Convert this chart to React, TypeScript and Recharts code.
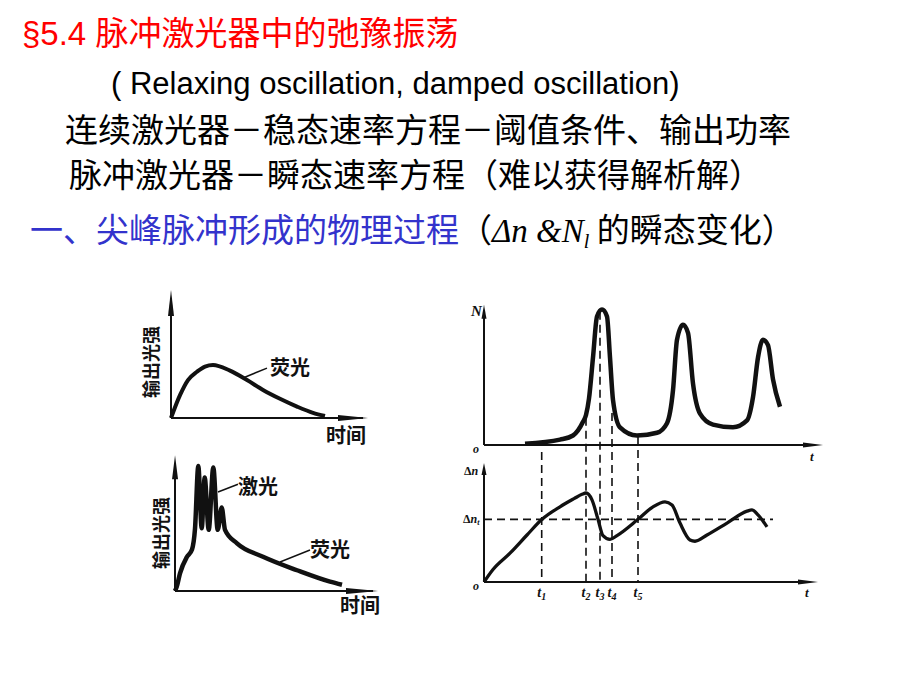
import React from 'react';
import { ComposedChart, Line, XAxis, YAxis, ReferenceLine, ReferenceDot } from 'recharts';

// ---- Chart A: fluorescence only (time, intensity) ----
const fluoT = [0, 0.9, 1.7, 2.6, 3.4, 4.2, 5.9, 7.6, 9.2, 10.9, 12.6, 14.2, 15.4];
const fluoI = [0, 0.44, 0.73, 0.89, 0.99, 1.02, 0.91, 0.73, 0.54, 0.37, 0.22, 0.1, 0.04];

// ---- Chart B: laser spikes on fluorescence ----
const laserT = [0, 0.17, 0.5, 1.2, 1.7, 2.0, 2.33, 2.67, 2.97, 3.37, 3.83, 4.27, 4.67, 5.0, 6.2, 8.8, 12.2, 15.5, 16.7];
const laserI = [0, 0.08, 0.34, 0.66, 0.8, 1.2, 2.41, 1.21, 2.19, 1.18, 2.38, 1.18, 1.61, 1.18, 0.92, 0.66, 0.4, 0.18, 0.12];

// ---- Chart C: photon number N(t) ----
const nT = [4.1, 7.6, 8.9, 9.9, 10.2, 10.5, 10.9, 11.3, 11.8, 12.3, 12.6, 12.9, 13.6, 15.3, 17.3, 18.3, 18.9, 19.3, 19.9, 20.4, 20.9, 21.6, 22.9, 24.9, 26.3, 26.9, 27.4, 27.9, 28.4, 28.9, 29.6];
const nV = [0.01, 0.04, 0.07, 0.17, 0.22, 0.34, 0.64, 0.94, 0.99, 0.94, 0.64, 0.33, 0.13, 0.07, 0.09, 0.16, 0.4, 0.77, 0.88, 0.82, 0.45, 0.23, 0.15, 0.13, 0.18, 0.35, 0.64, 0.77, 0.73, 0.48, 0.28];

// ---- Chart D: inversion Δn(t) ----
const dnT = [0, 0.9, 2.6, 4.3, 5.8, 7.6, 9.0, 9.8, 10.2, 10.8, 11.4, 11.9, 12.6, 13.3, 15.4, 16.9, 18.1, 18.8, 19.6, 20.6, 21.1, 22.3, 24.3, 26.3, 26.8, 27.4, 28.3];
const dnV = [0, 0.2, 0.46, 0.75, 1.0, 1.2, 1.33, 1.4, 1.42, 1.31, 1.0, 0.74, 0.68, 0.74, 1.0, 1.2, 1.28, 1.23, 0.94, 0.67, 0.65, 0.75, 0.94, 1.13, 1.15, 1.07, 0.88];
const dnThreshold = 1.0;
const thresholdEnd = 28.9;

// time marks t1..t5
const tMarks = [5.77, 10.2, 11.6, 12.8, 15.4];
const tMarkStartN = [-0.05, 0.2, 0.975, 0.235, 0.06];
const tSubs = ['1', '2', '3', '4', '5'];

const zip = (ts: number[], vs: number[]) => ts.map((t, i) => ({ t, v: vs[i] }));
const fluoData = zip(fluoT, fluoI);
const laserData = zip(laserT, laserI);
const nData = zip(nT, nV);
const dnData = zip(dnT, dnV);

const INK = '#111';
const CJK = '"Noto Sans CJK SC", sans-serif';
const SERIF = '"Liberation Serif", "DejaVu Serif", serif';

const arrowShape = (dir: 'up' | 'right', len: number, w: number) => (p: any) => {
  const { cx, cy } = p;
  if (cx == null || cy == null) return <g />;
  const pts =
    dir === 'up'
      ? `${cx},${cy} ${cx - w},${cy + len} ${cx + w},${cy + len}`
      : `${cx},${cy} ${cx - len},${cy - w} ${cx - len},${cy + w}`;
  return <polygon points={pts} fill={INK} />;
};

const TTick = (props: any) => {
  const { x, y, index } = props;
  return (
    <text x={x} y={y + 15} textAnchor="middle" fontFamily={SERIF} fontStyle="italic" fontWeight="bold" fontSize={14} fill={INK}>
      t<tspan fontSize={10} dy={3}>{tSubs[index]}</tspan>
    </text>
  );
};

const abs = (left: number, top: number, extra: React.CSSProperties = {}): React.CSSProperties => ({
  position: 'absolute',
  left,
  top,
  lineHeight: 1,
  whiteSpace: 'nowrap',
  ...extra,
});

const VLabel = ({ cx, cy, text }: { cx: number; cy: number; text: string }) => (
  <div
    style={abs(cx - 40, cy - 10, {
      width: 80,
      height: 20,
      lineHeight: '20px',
      textAlign: 'center',
      transform: 'rotate(-90deg)',
      fontFamily: CJK,
      fontWeight: 700,
      fontSize: 18,
      color: INK,
    })}
  >
    {text}
  </div>
);

const lbl = (left: number, top: number, text: string, size = 20) => (
  <div style={abs(left, top, { fontFamily: CJK, fontWeight: 700, fontSize: size, color: INK })}>{text}</div>
);

export default function App() {
  return (
    <div style={{ position: 'absolute', left: 0, top: 0, width: 920, height: 690, background: '#fff', overflow: 'hidden', fontFamily: CJK }}>
      {/* Titles */}
      <div style={abs(22, 15, { fontSize: 33, color: '#ff0000', fontFamily: CJK })}>
        <span style={{ fontFamily: '"Liberation Sans", Arial, sans-serif' }}>§5.4 </span>脉冲激光器中的弛豫振荡
      </div>
      <div style={abs(111, 68, { fontSize: 31, color: '#000', fontFamily: '"Liberation Sans", Arial, sans-serif' })}>
        ( Relaxing oscillation, damped oscillation)
      </div>
      <div style={abs(65, 112, { fontSize: 33, color: '#000' })}>连续激光器－稳态速率方程－阈值条件、输出功率</div>
      <div style={abs(69, 157, { fontSize: 33, color: '#000' })}>脉冲激光器－瞬态速率方程（难以获得解析解）</div>
      <div style={abs(30, 212, { fontSize: 33, color: '#3333cc' })}>
        一、尖峰脉冲形成的物理过程
        <span style={{ color: '#000' }}>
          （
          <span style={{ fontFamily: SERIF, fontStyle: 'italic' }}>
            Δn &amp;N<sub style={{ fontSize: 20, verticalAlign: '-6px' }}>l</sub>
          </span>{' '}
          的瞬态变化）
        </span>
      </div>

      {/* Chart A */}
      <div style={{ position: 'absolute', left: 130, top: 280 }}>
        <ComposedChart width={250} height={150} margin={{ top: 8, right: 9, bottom: 12, left: 41 }}>
          <XAxis type="number" dataKey="t" domain={[0, 20]} hide />
          <YAxis type="number" domain={[0, 2.5]} hide />
          <ReferenceLine segment={[{ x: 0, y: 0 }, { x: 0, y: 2.3 }]} stroke={INK} strokeWidth={2} ifOverflow="visible" />
          <ReferenceLine segment={[{ x: 0, y: 0 }, { x: 19.2, y: 0 }]} stroke={INK} strokeWidth={2} ifOverflow="visible" />
          <ReferenceDot x={0} y={2.46} ifOverflow="visible" shape={arrowShape('up', 26, 3)} />
          <ReferenceDot x={19.7} y={0} ifOverflow="visible" shape={arrowShape('right', 30, 3)} />
          <ReferenceLine segment={[{ x: 7.2, y: 0.77 }, { x: 9.6, y: 0.96 }]} stroke={INK} strokeWidth={1.5} ifOverflow="visible" />
          <Line data={fluoData} dataKey="v" type="monotone" stroke={INK} strokeWidth={4} dot={false} activeDot={false} isAnimationActive={false} />
        </ComposedChart>
      </div>
      <VLabel cx={150} cy={362} text="输出光强" />
      {lbl(270, 357, '荧光')}
      {lbl(326, 425, '时间')}

      {/* Chart B */}
      <div style={{ position: 'absolute', left: 135, top: 445 }}>
        <ComposedChart width={260} height={160} margin={{ top: 6, right: 15, bottom: 14, left: 40 }}>
          <XAxis type="number" dataKey="t" domain={[0, 20.5]} hide />
          <YAxis type="number" domain={[0, 2.7]} hide />
          <ReferenceLine segment={[{ x: 0, y: 0 }, { x: 0, y: 2.4 }]} stroke={INK} strokeWidth={2} ifOverflow="visible" />
          <ReferenceLine segment={[{ x: 0, y: 0 }, { x: 19.8, y: 0 }]} stroke={INK} strokeWidth={2} ifOverflow="visible" />
          <ReferenceDot x={0} y={2.62} ifOverflow="visible" shape={arrowShape('up', 24, 3)} />
          <ReferenceDot x={20.3} y={0} ifOverflow="visible" shape={arrowShape('right', 32, 3)} />
          <ReferenceLine segment={[{ x: 4.3, y: 1.91 }, { x: 6.3, y: 2.06 }]} stroke={INK} strokeWidth={1.5} ifOverflow="visible" />
          <ReferenceLine segment={[{ x: 10.5, y: 0.56 }, { x: 13.5, y: 0.79 }]} stroke={INK} strokeWidth={1.5} ifOverflow="visible" />
          <Line data={laserData} dataKey="v" type="monotone" stroke={INK} strokeWidth={4.5} dot={false} activeDot={false} isAnimationActive={false} />
        </ComposedChart>
      </div>
      <VLabel cx={160} cy={533} text="输出光强" />
      {lbl(238, 476, '激光')}
      {lbl(310, 539, '荧光')}
      {lbl(340, 595, '时间')}

      {/* Charts C & D (shared time axis) */}
      <div style={{ position: 'absolute', left: 440, top: 290 }}>
        <ComposedChart width={400} height={320} margin={{ top: 10, right: 16, bottom: 4, left: 44 }}>
          <XAxis
            type="number"
            dataKey="t"
            domain={[0, 34]}
            ticks={tMarks}
            interval={0}
            axisLine={false}
            tickLine={false}
            tickSize={0}
            tickMargin={0}
            height={24}
            tick={<TTick />}
          />
          <YAxis yAxisId="n" type="number" domain={[-1, 1.06]} hide />
          <YAxis yAxisId="dn" type="number" domain={[0, 4.5]} hide />
          {/* N axes */}
          <ReferenceLine yAxisId="n" segment={[{ x: 0, y: 0 }, { x: 0, y: 0.95 }]} stroke={INK} strokeWidth={2} ifOverflow="visible" />
          <ReferenceLine yAxisId="n" segment={[{ x: 0, y: 0 }, { x: 33, y: 0 }]} stroke={INK} strokeWidth={2} ifOverflow="visible" />
          <ReferenceDot yAxisId="n" x={0} y={1.025} ifOverflow="visible" shape={arrowShape('up', 14, 2.5)} />
          <ReferenceDot yAxisId="n" x={33.9} y={0} ifOverflow="visible" shape={arrowShape('right', 20, 2.5)} />
          {/* Δn axes */}
          <ReferenceLine yAxisId="dn" segment={[{ x: 0, y: 0 }, { x: 0, y: 1.75 }]} stroke={INK} strokeWidth={2} ifOverflow="visible" />
          <ReferenceLine yAxisId="dn" segment={[{ x: 0, y: 0 }, { x: 32.5, y: 0 }]} stroke={INK} strokeWidth={2} ifOverflow="visible" />
          <ReferenceDot yAxisId="dn" x={0} y={1.9} ifOverflow="visible" shape={arrowShape('up', 12, 2.5)} />
          <ReferenceDot yAxisId="dn" x={33.4} y={0} ifOverflow="visible" shape={arrowShape('right', 20, 2.5)} />
          {/* threshold */}
          <ReferenceLine
            yAxisId="dn"
            segment={[{ x: 0, y: dnThreshold }, { x: thresholdEnd, y: dnThreshold }]}
            stroke={INK}
            strokeWidth={1.6}
            strokeDasharray="8 5"
            ifOverflow="visible"
          />
          {/* time marks */}
          {tMarks.map((t, i) => (
            <ReferenceLine
              key={i}
              yAxisId="n"
              segment={[{ x: t, y: tMarkStartN[i] }, { x: t, y: -1 }]}
              stroke={INK}
              strokeWidth={1.6}
              strokeDasharray="8 5"
              ifOverflow="visible"
            />
          ))}
          <Line yAxisId="n" data={nData} dataKey="v" type="monotone" stroke={INK} strokeWidth={4.5} dot={false} activeDot={false} isAnimationActive={false} />
          <Line yAxisId="dn" data={dnData} dataKey="v" type="monotone" stroke={INK} strokeWidth={3.3} dot={false} activeDot={false} isAnimationActive={false} />
        </ComposedChart>
      </div>

      {/* small serif labels of right charts */}
      <svg width={920} height={690} style={{ position: 'absolute', left: 0, top: 0, pointerEvents: 'none' }}>
        <g fontFamily={SERIF} fontWeight="bold" fill={INK}>
          <text x={471} y={316} fontSize={15} fontStyle="italic">N</text>
          <text x={473} y={453} fontSize={12} fontStyle="italic">o</text>
          <text x={810} y={461} fontSize={13} fontStyle="italic">t</text>
          <text x={464} y={475} fontSize={12}>
            Δ<tspan fontStyle="italic">n</tspan>
          </text>
          <text x={463} y={523} fontSize={12}>
            Δ<tspan fontStyle="italic">n</tspan>
            <tspan fontStyle="italic" fontSize={8} dy={2}>t</tspan>
          </text>
          <text x={473} y={590} fontSize={12} fontStyle="italic">o</text>
          <text x={805} y={597} fontSize={13} fontStyle="italic">t</text>
        </g>
      </svg>
    </div>
  );
}
